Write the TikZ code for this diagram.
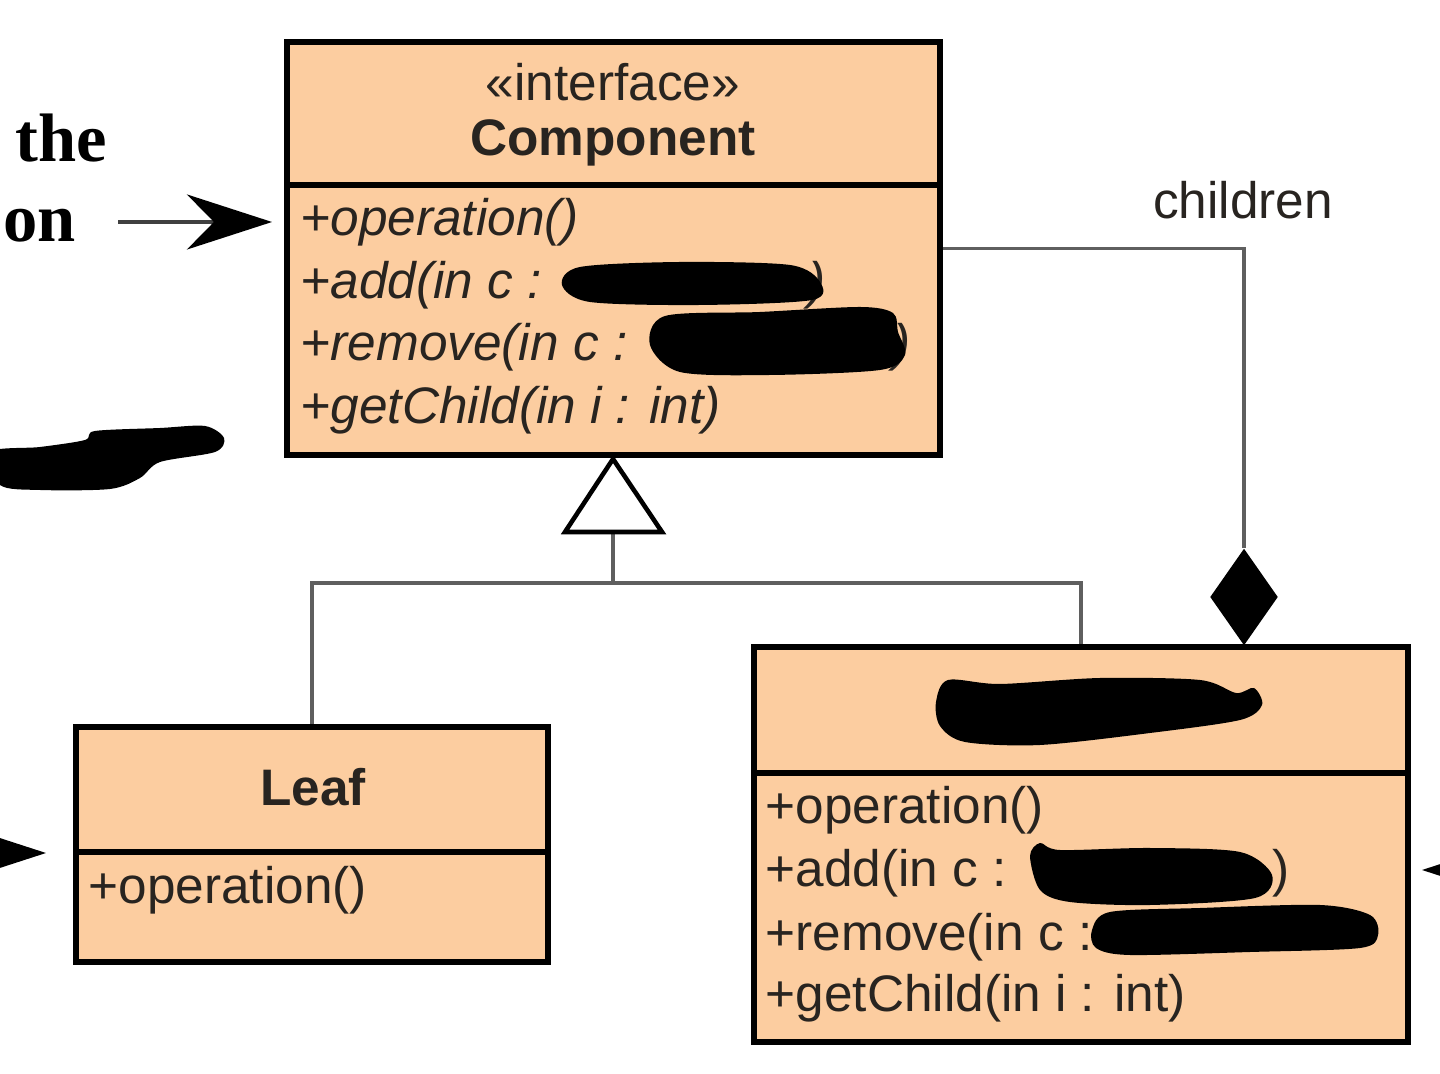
\documentclass[tikz,border=0pt]{standalone}
\usepackage{fontspec}
\setmainfont{Liberation Serif}
\setsansfont{Liberation Sans}
\usetikzlibrary{arrows.meta,shapes.geometric}
\definecolor{peach}{RGB}{252,205,160}
\definecolor{txt}{RGB}{40,36,32}
\definecolor{connc}{RGB}{95,95,95}
\tikzset{
  classbox/.style={draw=black, line width=1.7pt, fill=peach, inner sep=0pt},
  divider/.style={draw=black, line width=1.7pt},
  conn/.style={draw=connc, line width=0.9pt},
  uml/.style={font=\sffamily\fontsize{14.6}{17}\selectfont, text=txt, inner sep=0pt},
  umlb/.style={font=\sffamily\bfseries\fontsize{14.6}{17}\selectfont, text=txt, inner sep=0pt},
  umli/.style={font=\sffamily\itshape\fontsize{14.6}{17}\selectfont, text=txt, inner sep=0pt, anchor=west},
  umlr/.style={font=\sffamily\fontsize{14.6}{17}\selectfont, text=txt, inner sep=0pt, anchor=west},
  side/.style={font=\rmfamily\bfseries\fontsize{19.5}{22}\selectfont, text=black, inner sep=0pt, anchor=base west},
  bigarrow/.style={draw=black!75, line width=1pt, -{Stealth[length=0.85cm,width=0.55cm,inset=0.27cm,black]}},
  blob/.style={fill=black}
}
\begin{document}
\begin{tikzpicture}[x=0.01cm,y=-0.01cm]
\useasboundingbox[fill=white] (0,0) rectangle (1440,1074);

% --- Component
\node[classbox, minimum width=6.53cm, minimum height=4.13cm] (comp) at (613.5,248.5) {};
\draw[divider] (287,185) -- (940,185);
\node[uml] (stereo) at (613,82) {«interface»};
\node[umlb] (compname) at (613,143) {Component};
\node[umli] (c1) at (300,222) {+operation()};
\node[umli] (c2) at (300,285) {+add(in c :};
\node[umli] (c2e) at (808,285) {)};
\node[umli] (c3) at (300,347) {+remove(in c :};
\node[umli] (c3e) at (893,347) {)};
\node[umli] (c4) at (300,410) {+getChild(in i : int)};
\fill[blob] plot[smooth cycle] coordinates {(562,285) (580,267) (680,262) (790,265) (820,282) (812,300) (700,305) (590,302)};
\fill[blob] plot[smooth cycle] coordinates {(650,345) (665,316) (760,312) (860,307) (893,313) (898,332) (905,355) (880,370) (770,375) (680,372)};

% --- Leaf
\node[classbox, minimum width=4.72cm, minimum height=2.35cm] (leaf) at (312,844.5) {};
\draw[divider] (76,852) -- (548,852);
\node[umlb] (leafname) at (313,787) {Leaf};
\node[umlr] (l1) at (88,890) {+operation()};

% --- Composite
\node[classbox, minimum width=6.54cm, minimum height=3.95cm] (compo) at (1081,844.5) {};
\draw[divider] (754,773) -- (1408,773);
\fill[blob] plot[smooth cycle] coordinates {(936,702) (948,680) (1000,684) (1100,678) (1200,680) (1236,693) (1254,688) (1262,705) (1240,720) (1150,733) (1040,745) (965,742) (940,726)};
\node[umlr] (k1) at (765,810) {+operation()};
\node[umlr] (k2) at (765,873) {+add(in c :};
\node[umlr] (k2e) at (1272,873) {)};
\node[umlr] (k3) at (765,937) {+remove(in c :};
\node[umlr] (k4) at (765,998) {+getChild(in i : int)};
\fill[blob] plot[smooth cycle] coordinates {(1030,856) (1040,843) (1060,850) (1150,848) (1240,852) (1272,875) (1255,898) (1150,905) (1070,902) (1040,890)};
\fill[blob] plot[smooth cycle] coordinates {(1092,930) (1110,912) (1200,908) (1320,905) (1370,915) (1378,935) (1360,948) (1250,952) (1130,955) (1096,948)};

% --- Generalization
\coordinate (junc) at (613,583);
\coordinate (tribase) at (613,532);
\draw[conn] (leaf.north) |- (junc) -| (compo.north);
\draw[conn] (junc) -- (tribase);
\draw[black, line width=1.3pt, fill=white, line join=miter] (613,459) -- (662,532) -- (565,532) -- cycle;

% --- Aggregation (composition)
\node[diamond, fill=black, inner sep=0pt, minimum width=0.68cm, minimum height=0.97cm] (dia) at (1244,597) {};
\draw[conn] (comp.east) -| (dia.north);
\node[uml] (childlbl) at (1243,200) {children};

% --- Side annotations
\node[side] (t1) at (15,162) {the};
\node[side] (t2) at (3,242) {on};
\coordinate (a1s) at (118,222);
\coordinate (a1e) at (272,222);
\draw[bigarrow] (a1s) -- (a1e);
\coordinate (a2s) at (-120,853);
\coordinate (a2e) at (46,853);
\draw[bigarrow] (a2s) -- (a2e);
\coordinate (a3s) at (1560,870);
\coordinate (a3e) at (1422,870);
\draw[bigarrow] (a3s) -- (a3e);
\fill[blob] plot[smooth cycle] coordinates {(-10,452) (40,447) (85,440) (95,431) (160,428) (205,426) (224,438) (215,452) (160,462) (140,478) (110,489) (40,490) (0,485)};
\end{tikzpicture}
\end{document}
